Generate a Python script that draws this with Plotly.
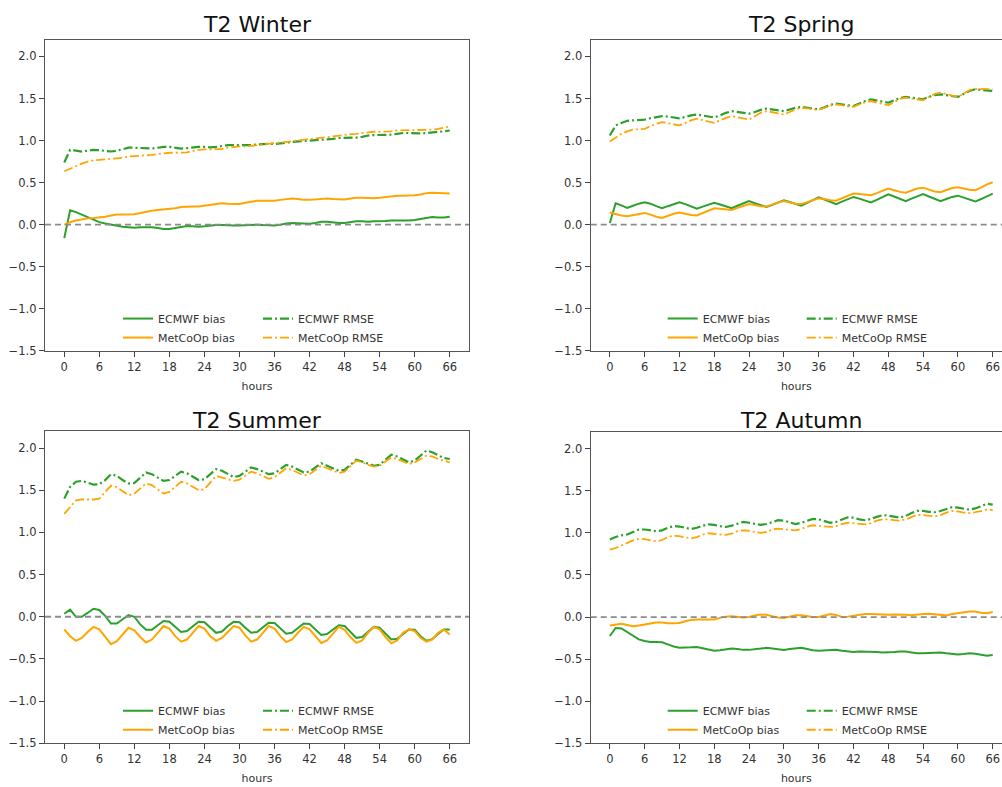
import plotly.graph_objects as go

# ---------------- data ----------------
hours = list(range(0, 67))
x_tick_vals = [0, 6, 12, 18, 24, 30, 36, 42, 48, 54, 60, 66]
y_tick_vals = [-1.5, -1.0, -0.5, 0.0, 0.5, 1.0, 1.5, 2.0]
panel_titles = ["T2 Winter", "T2 Spring", "T2 Summer", "T2 Autumn"]
series_names = ["ECMWF bias", "MetCoOp bias", "ECMWF RMSE", "MetCoOp RMSE"]
x_title = "hours"

winter_ecmwf_bias = [-0.16, 0.17, 0.15, 0.12, 0.09, 0.06, 0.03, 0.015, 0.0, -0.01, -0.025, -0.03, -0.035, -0.03, -0.03, -0.03,
                     -0.04, -0.05, -0.05, -0.04, -0.025, -0.015, -0.02, -0.025, -0.02, -0.01, -0.005, -0.005, -0.01, -0.01,
                     -0.01, -0.005, 0.0, 0.0, -0.005, -0.01, -0.01, 0.0, 0.015, 0.02, 0.015, 0.01, 0.01, 0.02, 0.035, 0.035,
                     0.025, 0.02, 0.02, 0.03, 0.04, 0.04, 0.035, 0.04, 0.04, 0.045, 0.05, 0.05, 0.045, 0.05, 0.055, 0.065,
                     0.08, 0.09, 0.085, 0.085, 0.095]
winter_metcoop_bias = [0.0, 0.03, 0.05, 0.065, 0.075, 0.08, 0.085, 0.095, 0.11, 0.12, 0.12, 0.12, 0.125, 0.14, 0.155, 0.165,
                       0.175, 0.18, 0.185, 0.195, 0.21, 0.215, 0.215, 0.215, 0.225, 0.24, 0.25, 0.255, 0.25, 0.245, 0.245,
                       0.26, 0.275, 0.285, 0.285, 0.285, 0.285, 0.295, 0.305, 0.31, 0.305, 0.295, 0.295, 0.3, 0.31, 0.31,
                       0.305, 0.3, 0.3, 0.31, 0.32, 0.32, 0.315, 0.315, 0.32, 0.33, 0.34, 0.345, 0.345, 0.345, 0.35, 0.36,
                       0.375, 0.38, 0.378, 0.375, 0.372]
winter_ecmwf_rmse = [0.74, 0.89, 0.88, 0.87, 0.88, 0.89, 0.885, 0.875, 0.87, 0.88, 0.9, 0.915, 0.915, 0.91, 0.905, 0.905,
                     0.915, 0.925, 0.925, 0.915, 0.905, 0.91, 0.92, 0.925, 0.925, 0.92, 0.925, 0.935, 0.945, 0.945, 0.945,
                     0.94, 0.945, 0.955, 0.96, 0.96, 0.96, 0.965, 0.975, 0.985, 0.99, 0.995, 1.0, 1.0, 1.005, 1.01, 1.02,
                     1.03, 1.03, 1.03, 1.035, 1.045, 1.06, 1.065, 1.065, 1.065, 1.07, 1.08, 1.09, 1.09, 1.085, 1.085, 1.09,
                     1.095, 1.1, 1.11, 1.12]
winter_metcoop_rmse = [0.635, 0.665, 0.7, 0.725, 0.75, 0.765, 0.77, 0.775, 0.78, 0.785, 0.795, 0.81, 0.815, 0.815, 0.82,
                       0.83, 0.84, 0.85, 0.855, 0.855, 0.855, 0.86, 0.875, 0.89, 0.895, 0.895, 0.895, 0.9, 0.915, 0.925,
                       0.93, 0.93, 0.935, 0.945, 0.955, 0.965, 0.97, 0.975, 0.985, 0.995, 1.005, 1.015, 1.02, 1.025, 1.03,
                       1.04, 1.05, 1.06, 1.07, 1.075, 1.08, 1.09, 1.1, 1.105, 1.105, 1.105, 1.11, 1.12, 1.125, 1.125, 1.125,
                       1.125, 1.13, 1.13, 1.14, 1.155, 1.165]

spring_ecmwf_bias = [0.02, 0.255, 0.23, 0.2, 0.225, 0.25, 0.265, 0.25, 0.22, 0.195, 0.22, 0.245, 0.265, 0.245, 0.215, 0.19,
                     0.215, 0.24, 0.26, 0.24, 0.215, 0.195, 0.225, 0.255, 0.28, 0.255, 0.23, 0.21, 0.235, 0.265, 0.29,
                     0.27, 0.245, 0.225, 0.26, 0.295, 0.325, 0.3, 0.27, 0.245, 0.275, 0.305, 0.33, 0.31, 0.285, 0.265,
                     0.295, 0.33, 0.36, 0.335, 0.305, 0.28, 0.31, 0.34, 0.365, 0.335, 0.305, 0.28, 0.305, 0.33, 0.345,
                     0.32, 0.295, 0.275, 0.305, 0.34, 0.37]
spring_metcoop_bias = [0.145, 0.125, 0.11, 0.1, 0.115, 0.13, 0.14, 0.12, 0.095, 0.08, 0.105, 0.13, 0.145, 0.13, 0.115, 0.11,
                       0.14, 0.17, 0.195, 0.19, 0.18, 0.175, 0.2, 0.225, 0.245, 0.235, 0.22, 0.215, 0.24, 0.265, 0.28,
                       0.265, 0.25, 0.245, 0.27, 0.295, 0.315, 0.305, 0.29, 0.285, 0.315, 0.345, 0.37, 0.365, 0.355, 0.35,
                       0.375, 0.405, 0.43, 0.41, 0.39, 0.38, 0.405, 0.43, 0.44, 0.42, 0.395, 0.385, 0.41, 0.435, 0.445,
                       0.43, 0.415, 0.41, 0.44, 0.48, 0.505]
spring_ecmwf_rmse = [1.06, 1.18, 1.21, 1.235, 1.24, 1.245, 1.25, 1.265, 1.28, 1.29, 1.285, 1.275, 1.265, 1.28, 1.3, 1.31,
                     1.3, 1.285, 1.275, 1.3, 1.33, 1.35, 1.34, 1.33, 1.32, 1.34, 1.365, 1.38, 1.37, 1.36, 1.35, 1.37, 1.39,
                     1.4, 1.39, 1.38, 1.37, 1.395, 1.425, 1.44, 1.43, 1.42, 1.41, 1.44, 1.47, 1.49, 1.475, 1.46, 1.45,
                     1.48, 1.505, 1.52, 1.51, 1.5, 1.49, 1.52, 1.54, 1.55, 1.54, 1.53, 1.52, 1.555, 1.59, 1.61, 1.605,
                     1.595, 1.59]
spring_metcoop_rmse = [0.99, 1.04, 1.08, 1.11, 1.13, 1.135, 1.14, 1.17, 1.2, 1.22, 1.205, 1.19, 1.18, 1.21, 1.24, 1.26,
                       1.245, 1.225, 1.21, 1.24, 1.27, 1.29, 1.275, 1.26, 1.25, 1.29, 1.33, 1.35, 1.335, 1.32, 1.31, 1.34,
                       1.37, 1.39, 1.38, 1.37, 1.365, 1.39, 1.415, 1.43, 1.42, 1.41, 1.4, 1.43, 1.455, 1.47, 1.45, 1.435,
                       1.42, 1.46, 1.495, 1.51, 1.5, 1.49, 1.48, 1.52, 1.555, 1.57, 1.55, 1.535, 1.52, 1.56, 1.6, 1.615,
                       1.615, 1.61, 1.61]

summer_ecmwf_bias = [0.035, 0.085, 0.0, 0.0, 0.045, 0.095, 0.08, 0.01, -0.08, -0.08, -0.03, 0.02, 0.0, -0.09, -0.155,
                     -0.155, -0.1, -0.05, -0.06, -0.12, -0.18, -0.17, -0.11, -0.06, -0.065, -0.13, -0.19, -0.175, -0.11,
                     -0.06, -0.065, -0.13, -0.19, -0.18, -0.12, -0.07, -0.075, -0.14, -0.2, -0.19, -0.13, -0.08, -0.085,
                     -0.15, -0.215, -0.205, -0.15, -0.1, -0.11, -0.18, -0.25, -0.24, -0.18, -0.12, -0.13, -0.2, -0.27,
                     -0.26, -0.2, -0.15, -0.155, -0.23, -0.285, -0.265, -0.205, -0.15, -0.15]
summer_metcoop_bias = [-0.15, -0.23, -0.285, -0.25, -0.18, -0.12, -0.15, -0.24, -0.325, -0.29, -0.215, -0.13, -0.16,
                       -0.24, -0.305, -0.27, -0.19, -0.11, -0.14, -0.23, -0.295, -0.27, -0.19, -0.11, -0.14, -0.23,
                       -0.285, -0.25, -0.18, -0.11, -0.13, -0.22, -0.295, -0.27, -0.19, -0.11, -0.14, -0.23, -0.3, -0.27,
                       -0.19, -0.12, -0.15, -0.235, -0.31, -0.28, -0.2, -0.12, -0.155, -0.24, -0.31, -0.28, -0.19, -0.12,
                       -0.15, -0.24, -0.315, -0.28, -0.19, -0.15, -0.17, -0.25, -0.295, -0.27, -0.19, -0.15, -0.21]
summer_ecmwf_rmse = [1.4, 1.54, 1.6, 1.61, 1.59, 1.565, 1.57, 1.62, 1.69, 1.67, 1.62, 1.58, 1.585, 1.65, 1.71, 1.69, 1.65,
                     1.61, 1.62, 1.67, 1.72, 1.7, 1.66, 1.62, 1.63, 1.69, 1.75, 1.73, 1.69, 1.655, 1.67, 1.72, 1.77, 1.75,
                     1.72, 1.69, 1.7, 1.75, 1.8, 1.78, 1.745, 1.71, 1.72, 1.77, 1.82, 1.79, 1.76, 1.73, 1.74, 1.8, 1.86,
                     1.84, 1.815, 1.79, 1.8, 1.86, 1.92, 1.9, 1.86, 1.83, 1.85, 1.91, 1.97, 1.95, 1.91, 1.88, 1.87]
summer_metcoop_rmse = [1.22, 1.3, 1.38, 1.39, 1.39, 1.39, 1.4, 1.48, 1.555, 1.535, 1.49, 1.44, 1.46, 1.52, 1.58, 1.56,
                       1.51, 1.46, 1.48, 1.54, 1.6, 1.58, 1.54, 1.5, 1.51, 1.59, 1.67, 1.65, 1.63, 1.61, 1.625, 1.67, 1.72,
                       1.7, 1.67, 1.635, 1.655, 1.71, 1.76, 1.74, 1.71, 1.675, 1.69, 1.74, 1.79, 1.76, 1.73, 1.705, 1.72,
                       1.79, 1.85, 1.83, 1.8, 1.78, 1.79, 1.84, 1.89, 1.87, 1.84, 1.81, 1.83, 1.87, 1.91, 1.9, 1.87, 1.85,
                       1.83]

autumn_ecmwf_bias = [-0.225, -0.13, -0.135, -0.18, -0.225, -0.265, -0.285, -0.295, -0.295, -0.3, -0.325, -0.35, -0.365,
                     -0.365, -0.36, -0.355, -0.37, -0.39, -0.4, -0.395, -0.385, -0.375, -0.38, -0.39, -0.39, -0.385,
                     -0.375, -0.365, -0.375, -0.385, -0.39, -0.38, -0.37, -0.365, -0.38, -0.395, -0.4, -0.395, -0.39,
                     -0.39, -0.4, -0.41, -0.415, -0.41, -0.41, -0.41, -0.415, -0.42, -0.42, -0.415, -0.41, -0.41, -0.42,
                     -0.43, -0.43, -0.425, -0.42, -0.42, -0.43, -0.44, -0.445, -0.44, -0.43, -0.435, -0.45, -0.46, -0.45]
autumn_metcoop_bias = [-0.1, -0.09, -0.08, -0.095, -0.11, -0.1, -0.09, -0.075, -0.065, -0.065, -0.075, -0.075, -0.07,
                       -0.05, -0.035, -0.03, -0.03, -0.035, -0.03, -0.01, 0.005, 0.01, 0.0, -0.005, 0.0, 0.02, 0.03, 0.027,
                       0.01, -0.005, -0.01, 0.005, 0.02, 0.02, 0.01, 0.0, 0.0, 0.02, 0.035, 0.025, 0.0, 0.005, 0.015, 0.03,
                       0.035, 0.035, 0.03, 0.025, 0.027, 0.03, 0.03, 0.027, 0.02, 0.03, 0.035, 0.04, 0.035, 0.025, 0.02,
                       0.035, 0.045, 0.055, 0.065, 0.065, 0.05, 0.045, 0.06]
autumn_ecmwf_rmse = [0.92, 0.95, 0.97, 0.98, 1.01, 1.04, 1.04, 1.03, 1.02, 1.03, 1.06, 1.08, 1.075, 1.06, 1.045, 1.06,
                     1.085, 1.1, 1.095, 1.08, 1.07, 1.085, 1.11, 1.13, 1.12, 1.105, 1.095, 1.105, 1.13, 1.15, 1.145, 1.125,
                     1.105, 1.12, 1.145, 1.165, 1.16, 1.14, 1.12, 1.13, 1.16, 1.185, 1.18, 1.16, 1.15, 1.165, 1.19, 1.21,
                     1.205, 1.19, 1.18, 1.2, 1.235, 1.26, 1.26, 1.25, 1.245, 1.26, 1.285, 1.305, 1.3, 1.29, 1.275, 1.29,
                     1.32, 1.345, 1.335]
autumn_metcoop_rmse = [0.8, 0.82, 0.85, 0.88, 0.91, 0.93, 0.925, 0.91, 0.9, 0.915, 0.95, 0.965, 0.96, 0.945, 0.935, 0.95,
                       0.98, 0.995, 0.99, 0.98, 0.975, 0.99, 1.02, 1.03, 1.025, 1.01, 1.0, 1.01, 1.04, 1.05, 1.045, 1.035,
                       1.03, 1.045, 1.075, 1.09, 1.085, 1.075, 1.07, 1.08, 1.105, 1.12, 1.115, 1.105, 1.1, 1.115, 1.145,
                       1.16, 1.16, 1.15, 1.145, 1.16, 1.19, 1.215, 1.21, 1.2, 1.195, 1.21, 1.24, 1.26, 1.255, 1.24, 1.235,
                       1.245, 1.26, 1.275, 1.27]

season_series = [
    [winter_ecmwf_bias, winter_metcoop_bias, winter_ecmwf_rmse, winter_metcoop_rmse],
    [spring_ecmwf_bias, spring_metcoop_bias, spring_ecmwf_rmse, spring_metcoop_rmse],
    [summer_ecmwf_bias, summer_metcoop_bias, summer_ecmwf_rmse, summer_metcoop_rmse],
    [autumn_ecmwf_bias, autumn_metcoop_bias, autumn_ecmwf_rmse, autumn_metcoop_rmse],
]

# ---------------- style / layout ----------------
W, H = 1002, 787
GREEN = "#2ca02c"
ORANGE = "#ffa500"
FONT = "DejaVu Sans"
series_styles = [
    dict(color=GREEN, width=2.0, dash="solid"),
    dict(color=ORANGE, width=2.0, dash="solid"),
    dict(color=GREEN, width=2.2, dash="9px,3px,2px,3px"),
    dict(color=ORANGE, width=1.8, dash="9px,3px,2px,3px"),
]

# pixel geometry of each panel: (left, right, top, bottom), x range, legend text x (col1, col2), legend row1 y, title pos
panels = [
    dict(box=(45, 469, 40, 354), xr=[-3.3, 69.3], leg=(158, 298), row1=319.3, title=(257, 25), mirror=True),
    dict(box=(590.7, 1002, 40, 354), xr=[-3.3, 67.6], leg=(702.7, 841.7), row1=319.3, title=(801, 25), mirror=False),
    dict(box=(45, 469, 435, 750), xr=[-3.3, 69.3], leg=(158, 298), row1=715, title=(257, 424), mirror=True),
    dict(box=(590.7, 1002, 435.7, 750), xr=[-3.3, 67.6], leg=(702.7, 841.7), row1=715, title=(801, 424), mirror=False),
]

fig = go.Figure()
layout = dict(
    width=W, height=H, autosize=False,
    margin=dict(l=0, r=0, t=0, b=0, pad=0),
    paper_bgcolor="white", plot_bgcolor="white",
    font=dict(family=FONT, color="#333333"),
    showlegend=True,
)
annotations = []
shapes = []

for i, p in enumerate(panels):
    n = "" if i == 0 else str(i + 1)
    l, r, t, b = p["box"]
    xdom = [l / W, min(r / W, 1.0)]
    ydom = [1 - b / H, 1 - t / H]
    layout["xaxis" + n] = dict(
        domain=xdom, range=p["xr"], anchor="y" + n,
        tickmode="array", tickvals=x_tick_vals, ticktext=[str(v) for v in x_tick_vals],
        ticks="outside", ticklen=5, tickwidth=1, tickcolor="#444",
        showline=True, linecolor="#555", linewidth=1.3, mirror=True,
        showgrid=False, zeroline=False,
        tickfont=dict(family=FONT, size=11.5, color="#333"),
        title=dict(text=x_title, font=dict(family=FONT, size=11, color="#333"), standoff=9),
    )
    layout["yaxis" + n] = dict(
        domain=ydom, range=[-1.5, 2.2], anchor="x" + n,
        tickmode="array", tickvals=y_tick_vals, ticktext=[f"{v:.1f}".replace("-", "\u2212") for v in y_tick_vals],
        ticks="outside", ticklen=5, tickwidth=1, tickcolor="#444",
        showline=True, linecolor="#555", linewidth=1.3, mirror=p["mirror"],
        showgrid=False, zeroline=False,
        tickfont=dict(family=FONT, size=11.5, color="#333"),
    )
    # zero reference line
    shapes.append(dict(type="line", xref="x" + n + " domain", yref="y" + n, x0=0, x1=1, y0=0, y1=0,
                       line=dict(color="#8c8c8c", width=1.8, dash="6px,4px"), layer="above"))
    # title
    annotations.append(dict(text=panel_titles[i], xref="paper", yref="paper", x=p["title"][0] / W,
                            y=1 - p["title"][1] / H, xanchor="center", yanchor="middle", showarrow=False,
                            font=dict(family=FONT, size=22, color="#111")))
    # legends: two columns, each a vertical legend
    leg_a = "legend" if i == 0 else "legend" + str(2 * i + 1)
    leg_b = "legend" + str(2 * i + 2)
    for k, lname in enumerate([leg_a, leg_b]):
        layout[lname] = dict(
            x=(p["leg"][k] - 40) / W, y=1 - (p["row1"] - 12.5) / H,
            xanchor="left", yanchor="top", xref="paper", yref="paper",
            orientation="v", bgcolor="rgba(0,0,0,0)", borderwidth=0,
            tracegroupgap=0, itemwidth=30, traceorder="normal",
            font=dict(family=FONT, size=11, color="#333"),
        )
    for s in range(4):
        st = series_styles[s]
        fig.add_trace(go.Scatter(
            x=hours, y=season_series[i][s], mode="lines", name=series_names[s],
            line=dict(color=st["color"], width=st["width"], dash=st["dash"]),
            xaxis="x" + n, yaxis="y" + n,
            legend=leg_a if s < 2 else leg_b,
            showlegend=True,
        ))

layout["annotations"] = annotations
layout["shapes"] = shapes
fig.update_layout(**layout)
fig.write_html("out.html")
